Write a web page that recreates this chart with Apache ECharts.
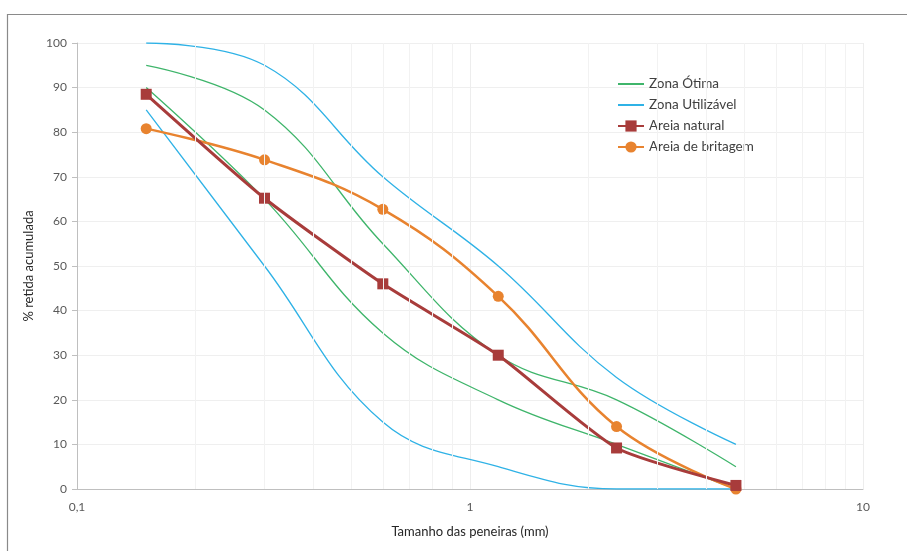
<!DOCTYPE html>
<html lang="pt">
  <head>
    <meta charset="UTF-8" />
    <title>Curva granulométrica</title>
    <script src="https://cdn.jsdelivr.net/npm/echarts@6/dist/echarts.min.js"></script>
    <style>
      html, body { margin: 0; padding: 0; background: #fff; }
      .echarts { width: 907px; height: 551px; }
    </style>
  </head>
  <body>
    <div class="echarts"></div>
    <script>
        // aberturas das peneiras (mm)
        const peneiras = [0.15, 0.3, 0.6, 1.18, 2.36, 4.75]

        // limites NBR 7211 (% retida acumulada)
        const otimaInf = [90, 65, 35, 20, 10, 0]
        const otimaSup = [95, 85, 55, 30, 20, 5]
        const utilInf = [85, 50, 15, 5, 0, 0]
        const utilSup = [100, 95, 70, 50, 25, 10]

        // amostras
        const areiaNatural = [88.5, 65.2, 46, 30, 9.2, 0.8]
        const areiaBritagem = [80.8, 73.8, 62.7, 43.2, 14, 0]

        // linhas de grade secundárias do eixo log
        const gradeMenor = [0.2, 0.3, 0.4, 0.5, 0.6, 0.7, 0.8, 0.9, 2, 3, 4, 5, 6, 7, 8, 9]

        const par = (vals) => peneiras.map((p, i) => [p, vals[i]])

        const fonte = 'Lato'
        const verde = '#3fb56b'
        const azul = '#2fb2e6'
        const iconeLinha = 'path://M0,0H26V2H0Z'

        const myCharts = echarts.init(document.querySelector('.echarts'))

        const zona = (name, vals, color) => ({
            name, type: 'line', data: par(vals), smooth: 0.4,
            symbol: 'none', lineStyle: { color, width: 1.3 }, itemStyle: { color },
            z: 2
        })

        const option = {
            animation: false,
            textStyle: { fontFamily: fonte },
            graphic: [{
                type: 'rect', shape: { x: 7.5, y: 14.5, width: 920, height: 560 },
                style: { fill: 'none', stroke: '#8a8a8a', lineWidth: 1.2 }, silent: true
            }],
            grid: { left: 77, right: 44, top: 43, bottom: 62 },
            legend: {
                orient: 'vertical', left: 612, top: 72, itemGap: 7,
                itemWidth: 26, itemHeight: 14,
                textStyle: { fontFamily: fonte, fontSize: 13.5, color: '#404040' },
                data: [
                    { name: 'Zona Ótima', icon: iconeLinha },
                    { name: 'Zona Utilizável', icon: iconeLinha },
                    'Areia natural',
                    'Areia de britagem'
                ]
            },
            xAxis: {
                type: 'log', logBase: 10, min: 0.1, max: 10,
                name: 'Tamanho das peneiras (mm)', nameLocation: 'middle', nameGap: 36,
                nameTextStyle: { fontFamily: fonte, fontSize: 13, color: '#262626' },
                axisLine: { lineStyle: { color: '#bfbfbf', width: 1 } },
                axisTick: { show: false },
                axisLabel: {
                    fontFamily: fonte, fontSize: 12, color: '#595959', margin: 12,
                    formatter: (v) => String(v).replace('.', ',')
                },
                splitLine: { show: true, lineStyle: { color: '#ededed' } }
            },
            yAxis: {
                type: 'value', min: 0, max: 100, interval: 10,
                name: '% retida acumulada', nameLocation: 'middle', nameGap: 42,
                nameTextStyle: { fontFamily: fonte, fontSize: 13, color: '#262626' },
                axisLine: { show: true, lineStyle: { color: '#bfbfbf' } },
                axisTick: { show: true, length: 5, lineStyle: { color: '#bfbfbf' } },
                axisLabel: { fontFamily: fonte, fontSize: 12, color: '#595959', margin: 10 },
                splitLine: { lineStyle: { color: '#efefef' } }
            },
            series: [
                zona('Zona Ótima', otimaInf, verde),
                zona('Zona Ótima', otimaSup, verde),
                zona('Zona Utilizável', utilInf, azul),
                zona('Zona Utilizável', utilSup, azul),
                {
                    name: 'Areia natural', type: 'line', data: par(areiaNatural), smooth: 0.2,
                    symbol: 'rect', symbolSize: 11,
                    lineStyle: { color: '#a83c3b', width: 3 }, itemStyle: { color: '#a83c3b' }, z: 4
                },
                {
                    name: 'Areia de britagem', type: 'line', data: par(areiaBritagem), smooth: 0.4,
                    symbol: 'circle', symbolSize: 11,
                    lineStyle: { color: '#e8832f', width: 2.5 }, itemStyle: { color: '#e8832f' }, z: 3
                },
                {
                    type: 'line', data: [], silent: true, z: 0,
                    markLine: {
                        silent: true, symbol: 'none', label: { show: false },
                        lineStyle: { color: '#f2f2f2', type: 'solid', width: 1 },
                        data: gradeMenor.map((v) => ({ xAxis: v }))
                    }
                }
            ]
        }

        myCharts.setOption(option)
    </script>
  </body>
</html>
